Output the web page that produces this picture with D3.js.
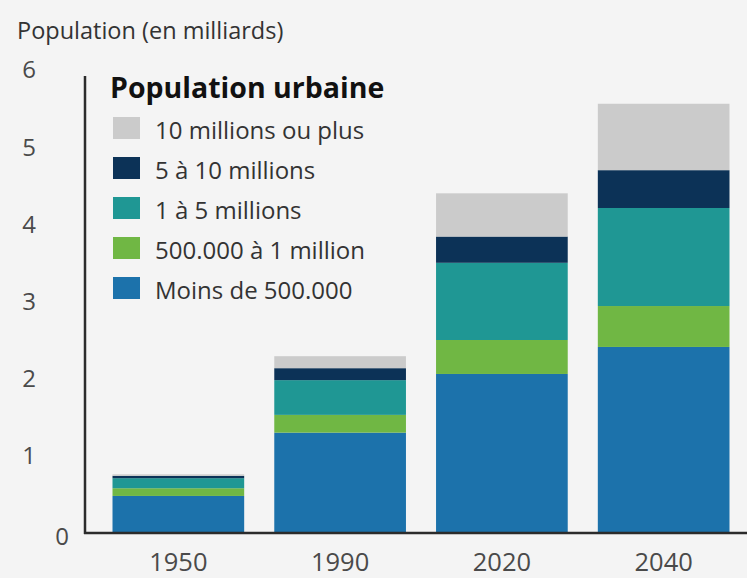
<!DOCTYPE html>
<html>
<head>
<meta charset="utf-8">
<script src="https://cdn.jsdelivr.net/npm/d3@7"></script>
<style>
  html, body { margin: 0; padding: 0; background: #f4f4f4; }
  svg { display: block; font-family: "Open Sans", "Noto Sans", sans-serif; }
</style>
</head>
<body>
<svg id="chart" width="747" height="578"></svg>
<script>
// Urban population by city size, billions
const years = ["1950", "1990", "2020", "2040"];
const seriesNames = ["Moins de 500.000", "500.000 à 1 million", "1 à 5 millions", "5 à 10 millions", "10 millions ou plus"];
const seriesColors = ["#1c72ab", "#70b744", "#1f9794", "#0c3257", "#cbcbcb"];
const lessThan500k = [0.48, 1.30, 2.06, 2.41];
const from500kTo1m = [0.10, 0.23, 0.44, 0.53];
const from1mTo5m = [0.13, 0.45, 1.00, 1.27];
const from5mTo10m = [0.03, 0.155, 0.34, 0.49];
const over10m = [0.02, 0.155, 0.56, 0.86];
const yTicks = [0, 1, 2, 3, 4, 5, 6];
const legendTitle = "Population urbaine";
const axisTitle = "Population (en milliards)";

const seriesValues = [lessThan500k, from500kTo1m, from1mTo5m, from5mTo10m, over10m];
const rows = years.map((yr, i) => {
  const r = { year: yr };
  seriesNames.forEach((s, k) => { r[s] = seriesValues[k][i]; });
  return r;
});

const svg = d3.select("#chart");
const x0 = 85, yBase = 533;

const x = d3.scaleBand().domain(years).range([85, 757]).paddingInner(0.186).paddingOuter(0.17);
const y = d3.scaleLinear().domain([0, 6]).range([yBase, yBase - 6 * 77.2]);

const stacked = d3.stack().keys(seriesNames)(rows);

// stacked bars
svg.append("g").selectAll("g").data(stacked).join("g")
  .attr("fill", (d, i) => seriesColors[i])
  .selectAll("rect").data(d => d).join("rect")
  .attr("x", d => x(d.data.year))
  .attr("width", x.bandwidth())
  .attr("y", d => y(d[1]))
  .attr("height", d => y(d[0]) - y(d[1]));

// axes
svg.append("line").attr("x1", x0).attr("x2", x0).attr("y1", 76).attr("y2", yBase + 1)
  .attr("stroke", "#2b2b2b").attr("stroke-width", 2.5);
svg.append("line").attr("x1", x0 - 1).attr("x2", 747).attr("y1", yBase).attr("y2", yBase)
  .attr("stroke", "#2b2b2b").attr("stroke-width", 2.5);

// y tick labels
svg.append("g").selectAll("text").data(yTicks).join("text")
  .attr("x", d => d === 0 ? 62 : 29)
  .attr("y", d => y(d) + (d === 0 ? 2 : -1))
  .attr("text-anchor", "middle")
  .attr("dominant-baseline", "central")
  .attr("font-size", 24)
  .attr("fill", "#4a4a4a")
  .text(d => d);

// x labels
svg.append("g").selectAll("text").data(years).join("text")
  .attr("x", d => x(d) + x.bandwidth() / 2)
  .attr("y", 561)
  .attr("text-anchor", "middle")
  .attr("dominant-baseline", "central")
  .attr("font-size", 25.5)
  .attr("fill", "#4a4a4a")
  .text(d => d);

// axis title
svg.append("text").attr("x", 17).attr("y", 30)
  .attr("dominant-baseline", "central")
  .attr("font-size", 23.5).attr("fill", "#333")
  .text(axisTitle);

// legend
const lg = svg.append("g");
lg.append("text").attr("x", 110).attr("y", 87)
  .attr("dominant-baseline", "central")
  .attr("font-size", 28.5).attr("font-weight", "bold").attr("fill", "#111")
  .text(legendTitle);
const legendOrder = seriesNames.map((n, i) => ({ name: n, color: seriesColors[i] })).reverse();
const item = lg.selectAll("g.item").data(legendOrder).join("g").attr("class", "item")
  .attr("transform", (d, i) => `translate(113, ${117 + i * 40})`);
item.append("rect").attr("width", 27).attr("height", 22).attr("fill", d => d.color);
item.append("text").attr("x", 42).attr("y", 12)
  .attr("dominant-baseline", "central")
  .attr("font-size", 24).attr("fill", "#333")
  .text(d => d.name);
</script>
</body>
</html>
